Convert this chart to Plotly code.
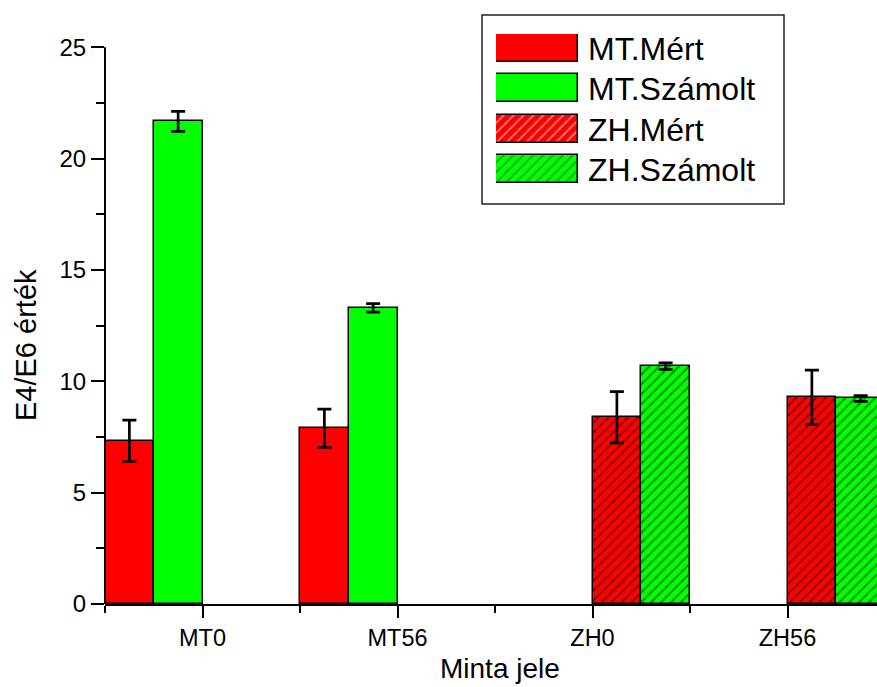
import plotly.graph_objects as go

# ---- data ----
categories = ["MT0", "MT56", "ZH0", "ZH56"]
series_names = ["MT.Mért", "MT.Számolt", "ZH.Mért", "ZH.Számolt"]
mt_mert = [7.33, 7.89, None, None]
mt_mert_err = [0.93, 0.86, 0, 0]
mt_szamolt = [21.67, 13.30, None, None]
mt_szamolt_err = [0.45, 0.19, 0, 0]
zh_mert = [None, None, 8.39, 9.28]
zh_mert_err = [0, 0, 1.15, 1.22]
zh_szamolt = [None, None, 10.68, 9.23]
zh_szamolt_err = [0, 0, 0.15, 0.13]

values = [mt_mert, mt_szamolt, zh_mert, zh_szamolt]
errors = [mt_mert_err, mt_szamolt_err, zh_mert_err, zh_szamolt_err]
colors = ["#ff0000", "#00ff00", "#ff0000", "#00ff00"]
patterns = ["", "", "/", "/"]

FONT = "Liberation Sans, Arial, sans-serif"
W, H = 877, 687
L, R, T, B = 105, 0, 0, 83
PW, PH = W - L - R, H - T - B
Y0PX = 604.0          # pixel of y=0
PXU = (604.0 - 47.3) / 25.0   # pixels per y unit
YTOP = Y0PX / PXU


def px_x(px):
    return (px - L) / PW


def px_y(py):
    return (Y0PX - py) / PH


xpos = list(range(len(categories)))

fig = go.Figure()
for name, v, e, c, p in zip(series_names, values, errors, colors, patterns):
    fig.add_trace(go.Bar(
        x=xpos, y=v, name=name,
        marker=dict(color=c, line=dict(color="black", width=1.5),
                    pattern=dict(shape=p, fgcolor="black", bgcolor=c,
                                 size=7, solidity=0.24)),
        error_y=dict(type="data", array=e, color="black", thickness=2.7, width=7),
        showlegend=False,
    ))

# manual legend swatches (inset axes)
sw_top, sw_bot = 34.0, 183.0
row_h = (sw_bot - sw_top - 28.0) / 3.0
half = 14.0 / row_h
fig.add_trace(go.Bar(
    x=[1] * len(series_names), y=list(range(len(series_names))), orientation="h",
    width=28.0 / row_h,
    marker=dict(color=colors, line=dict(color="black", width=1.5),
                pattern=dict(shape=patterns, fgcolor="black", bgcolor=colors,
                             size=7, solidity=0.24)),
    xaxis="x2", yaxis="y2", showlegend=False, hoverinfo="skip",
))

annotations = []
for i, name in enumerate(series_names):
    cy = sw_top + 14.0 + i * row_h
    annotations.append(dict(
        text=name, xref="paper", yref="paper", x=px_x(586), y=px_y(cy + 1),
        xanchor="left", yanchor="middle", showarrow=False,
        font=dict(family=FONT, size=32, color="black")))

annotations.append(dict(text="Minta jele", xref="paper", yref="paper",
                        x=px_x(500), y=px_y(668), xanchor="center", yanchor="middle",
                        showarrow=False, font=dict(family=FONT, size=28, color="black")))
annotations.append(dict(text="E4/E6 érték", xref="paper", yref="paper",
                        x=px_x(26), y=px_y(345), xanchor="center", yanchor="middle",
                        textangle=-90, showarrow=False,
                        font=dict(family=FONT, size=29, color="black")))

fig.update_layout(
    width=W, height=H,
    margin=dict(l=L, r=R, t=T, b=B, pad=0),
    paper_bgcolor="white", plot_bgcolor="white",
    barmode="group", bargap=0, bargroupgap=0,
    font=dict(family=FONT, size=23, color="black"),
    xaxis=dict(
        range=[-0.5, -0.5 + PW / 195.0],
        tickmode="array", tickvals=xpos, ticktext=categories,
        ticks="outside", ticklen=12, tickwidth=2, tickcolor="black",
        showline=True, linewidth=2, linecolor="black",
        showgrid=False, zeroline=False,
        minor=dict(tickmode="array", tickvals=[i - 0.5 for i in range(len(categories) + 1)],
                   ticks="outside", ticklen=7, tickwidth=2, tickcolor="black", showgrid=False),
        tickfont=dict(family=FONT, size=23.5),
    ),
    yaxis=dict(
        range=[0, YTOP],
        tickmode="array", tickvals=[0, 5, 10, 15, 20, 25],
        ticks="outside", ticklen=13, tickwidth=2, tickcolor="black",
        showline=False, showgrid=False, zeroline=False,
        minor=dict(tickmode="array", tickvals=[2.5, 7.5, 12.5, 17.5, 22.5],
                   ticks="outside", ticklen=8, tickwidth=2, tickcolor="black", showgrid=False),
        tickfont=dict(family=FONT, size=24),
    ),
    xaxis2=dict(domain=[px_x(496), px_x(578)], range=[0, 1], anchor="y2",
                visible=False, fixedrange=True),
    yaxis2=dict(domain=[px_y(sw_bot), px_y(sw_top)], range=[3 + half, -half],
                anchor="x2", visible=False, fixedrange=True),
    shapes=[
        dict(type="line", xref="paper", yref="y", x0=0, x1=0, y0=0, y1=25,
             line=dict(color="black", width=2)),
        dict(type="rect", xref="paper", yref="paper",
             x0=px_x(482), x1=px_x(784), y0=px_y(204), y1=px_y(15),
             line=dict(color="#222222", width=1.5), fillcolor="rgba(0,0,0,0)"),
    ],
    annotations=annotations,
    showlegend=False,
)

fig.write_html("out.html")
